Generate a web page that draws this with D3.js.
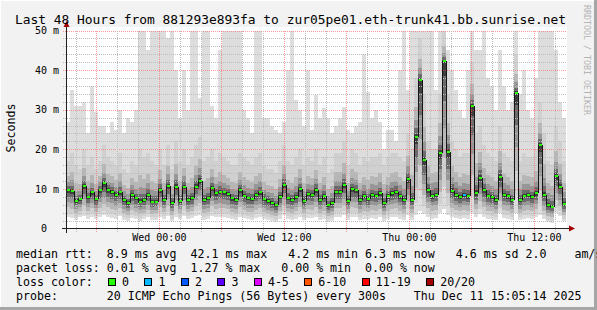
<!DOCTYPE html>
<html>
<head>
<meta charset="utf-8">
<script src="https://cdn.jsdelivr.net/npm/d3@7"></script>
<style>
body { margin: 0; background: #f2f2f2; }
svg { display: block; }
text { font-family: "DejaVu Sans Mono", monospace; white-space: pre; }
</style>
</head>
<body>
<svg id="chart" width="597" height="310"></svg>
<script>

// ---- data (ms), one value per 23 minute bin over the last 48 hours ----
var med = [
    9.7, 9.5, 7.0, 7.4, 10.8, 7.9, 9.1, 7.4, 9.6, 11.4,
    9.7, 9.3, 8.5, 9.1, 7.2, 6.5, 8.5, 7.6, 6.8, 7.2,
    8.5, 6.8, 6.8, 9.7, 7.2, 10.8, 6.4, 10.6, 7.0, 10.6,
    7.2, 7.6, 10.6, 12.1, 7.2, 7.6, 10.2, 8.9, 9.3, 9.1,
    8.7, 7.6, 7.2, 9.7, 8.2, 7.6, 7.5, 8.5, 9.1, 7.4,
    7.0, 6.5, 5.9, 7.9, 11.0, 7.6, 7.2, 7.9, 9.9, 7.0,
    8.7, 8.5, 9.7, 7.2, 8.1, 5.9, 6.5, 9.3, 9.3, 11.0,
    7.0, 9.9, 9.6, 7.2, 8.2, 7.4, 8.5, 8.2, 8.9, 6.4,
    8.1, 8.9, 9.3, 8.1, 7.2, 12.5, 7.2, 23.2, 37.6, 17.3,
    9.6, 8.1, 8.5, 19.1, 42.2, 19.4, 9.5, 8.5, 7.9, 8.5,
    8.1, 31.0, 8.9, 12.8, 9.7, 8.2, 7.9, 7.2, 13.0, 8.5,
    8.1, 7.2, 34.2, 7.2, 8.2, 8.5, 7.9, 8.9, 21.1, 8.5,
    5.9, 5.5, 13.3, 10.6, 6.2
];

// highest ping in the bin
var hi = [
    27, 35, 31, 31, 32, 24, 36, 29.5, 26, 26,
    24, 27, 25, 30, 24, 28, 27, 30, 55, 55,
    45, 55, 55, 55, 55, 48, 55, 40, 28, 40,
    30, 55, 55, 33, 55, 55, 31, 28, 45, 55,
    55, 55, 55, 55, 30, 28, 24, 55, 55, 28,
    28, 26, 25, 24, 27, 40, 55, 32.5, 30, 26,
    40, 25, 33.8, 28, 30.5, 28, 24, 26, 28, 30.8,
    25, 24, 26, 27, 44, 34.5, 28, 30, 27, 20,
    25, 25, 22, 40, 55, 35, 55, 55, 55, 50,
    55, 55, 35, 55, 55, 45, 40, 35, 30, 28,
    40, 55, 45, 45, 50, 38, 36, 30, 45, 36,
    30, 32, 55, 34, 40, 30, 28, 38, 55, 55,
    55, 55, 45, 32, 28
];

// top of the dense smoke
var up = [
    17, 19, 16, 15, 20, 16, 18, 15, 17, 21,
    18, 17, 16, 19, 15, 14, 17, 16, 20, 18,
    19, 17, 16, 20, 16, 21, 15, 22, 17, 20,
    16, 18, 21, 23, 17, 18, 20, 17, 19, 18,
    17, 16, 16, 19, 18, 17, 16, 18, 19, 16,
    15, 15, 14, 17, 21, 17, 16, 18, 20, 16,
    18, 17, 20, 16, 18, 14, 15, 19, 19, 22,
    16, 20, 19, 16, 18, 17, 18, 18, 19, 16,
    18, 19, 19, 18, 17, 24, 20, 38, 48, 34,
    22, 20, 20, 34, 50, 34, 22, 20, 18, 19,
    19, 42, 24, 26, 21, 19, 18, 17, 26, 19,
    18, 17, 44, 17, 19, 18, 18, 20, 32, 24,
    17, 16, 26, 22, 17
];

// lowest ping in the bin
var lo = [
    3.0, 2.6, 2.2, 2.8, 3.2, 2.5, 3.0, 2.4, 2.9, 3.3,
    3.0, 2.7, 2.5, 3.1, 2.2, 1.9, 2.6, 2.4, 2.0, 2.3,
    2.8, 2.1, 2.2, 3.0, 2.5, 3.1, 1.8, 3.0, 2.3, 3.2,
    2.4, 2.6, 3.2, 3.5, 2.2, 2.4, 3.1, 2.8, 3.0, 2.9,
    2.7, 2.3, 2.1, 3.0, 2.6, 2.4, 2.2, 2.7, 2.9, 2.3,
    2.1, 1.9, 1.6, 2.5, 3.3, 2.4, 2.2, 2.5, 3.0, 2.2,
    2.7, 2.6, 3.0, 2.2, 2.5, 1.7, 1.9, 2.9, 2.9, 3.3,
    2.2, 3.0, 2.9, 2.2, 2.5, 2.3, 2.6, 2.5, 2.8, 1.9,
    2.5, 2.8, 2.9, 2.5, 2.2, 3.5, 2.2, 3.4, 4.5, 3.6,
    2.9, 2.5, 2.6, 3.8, 4.8, 3.5, 2.9, 2.6, 2.4, 2.6,
    2.5, 3.9, 2.8, 3.6, 3.0, 2.5, 2.4, 2.2, 3.8, 2.6,
    2.5, 2.2, 4.0, 2.2, 2.5, 2.6, 2.4, 2.8, 3.5, 2.4,
    1.6, 1.4, 3.8, 3.2, 1.8
];

// lost pings per bin (of 20)
var loss = [
    0, 0, 0, 0, 0, 0, 0, 0, 0, 0,  0, 0, 0, 0, 0, 0, 0, 0, 0, 0,
    0, 0, 0, 0, 0, 0, 0, 0, 0, 0,  0, 0, 0, 0, 0, 0, 0, 0, 0, 0,
    0, 0, 0, 0, 0, 0, 0, 0, 0, 0,  0, 0, 0, 0, 0, 0, 0, 0, 0, 0,
    0, 0, 0, 0, 0, 0, 0, 0, 0, 0,  0, 0, 0, 0, 0, 0, 0, 0, 0, 0,
    0, 0, 0, 0, 0, 0, 0, 0, 0, 0,  0, 0, 0, 0, 0, 0, 0, 0, 0, 1,
    0, 0, 0, 0, 0, 0, 0, 0, 0, 0,  0, 0, 0, 0, 0, 0, 0, 0, 0, 0,
    0, 0, 0, 0, 0
];

var lossLabels = ["0", "1", "2", "3", "4-5", "6-10", "11-19", "20/20"];
var lossColors = ["#26ff00", "#00b8ff", "#0059ff", "#5e00ff", "#dd00ff", "#ff5500", "#ff0000", "#a00000"];
var lossUpper = [0, 1, 2, 3, 5, 10, 19, 20];

var yTicks = [0, 10, 20, 30, 40, 50];
var xTickLabels = ["Wed 00:00", "Wed 12:00", "Thu 00:00", "Thu 12:00"];
var xTickTimes = [
    Date.UTC(2025, 11, 10, 0), Date.UTC(2025, 11, 10, 12),
    Date.UTC(2025, 11, 11, 0), Date.UTC(2025, 11, 11, 12)
];

var title = "Last 48 Hours from 881293e893fa to zur05pe01.eth-trunk41.bb.sunrise.net";
var legendLines = [
    "median rtt:  8.9 ms avg  42.1 ms max   4.2 ms min 6.3 ms now   4.6 ms sd 2.0    am/s",
    "packet loss: 0.01 % avg  1.27 % max   0.00 % min  0.00 % now",
    "loss color:",
    "probe:       20 ICMP Echo Pings (56 Bytes) every 300s    Thu Dec 11 15:05:14 2025"
];

var endTime = Date.UTC(2025, 11, 11, 15, 5, 14);
var startTime = endTime - 48 * 3600 * 1000;

/*-------------- layout ----------------*/

var W = 597, H = 310;
var plot = {left: 66, right: 566, top: 30.5, bottom: 228.5};
var cw = 6.98; // legend char width

var svg = d3.select("#chart");

var x = d3.scaleUtc().domain([startTime, endTime]).range([plot.left, plot.right]);
var y = d3.scaleLinear().domain([0, 50]).range([plot.bottom, plot.top]).clamp(true);

var binMs = (endTime - startTime) / med.length;
var bins = d3.range(med.length);
function bx0(i) { return x(startTime + i * binMs); }
function bx1(i) { return x(startTime + (i + 1) * binMs); }

// frame
svg.append("rect").attr("width", W).attr("height", H).attr("fill", "#f2f2f2");
svg.append("rect").attr("x", 0).attr("y", 0).attr("width", W).attr("height", 1).attr("fill", "#ffffff");
svg.append("rect").attr("x", 0).attr("y", 0).attr("width", 1).attr("height", H).attr("fill", "#ffffff");
svg.append("rect").attr("x", 0).attr("y", H - 3).attr("width", W).attr("height", 3).attr("fill", "#a6a6a6");
svg.append("rect").attr("x", W - 3).attr("y", 0).attr("width", 3).attr("height", H).attr("fill", "#a6a6a6");

// canvas
svg.append("rect")
    .attr("x", plot.left).attr("y", 27)
    .attr("width", plot.right - plot.left + 1).attr("height", plot.bottom - 27)
    .attr("fill", "#ffffff");

/*-------------- smoke ----------------*/

var smoke = svg.append("g").attr("shape-rendering", "crispEdges");

smoke.selectAll("rect.light")
    .data(bins)
    .enter().append("rect")
    .attr("class", "light")
    .attr("x", bx0)
    .attr("width", function(i) { return bx1(i) - bx0(i); })
    .attr("y", function(i) { return y(hi[i]); })
    .attr("height", function(i) { return y(lo[i]) - y(hi[i]); })
    .attr("fill", "#dddddd");

var bandFill = ["#d0d0d0", "#b6b6b6", "#979797", "#6c6c6c", "#3e3e3e"];
var upFrac = [1, 0.5, 0.28, 0.14, 0.05];
var downFrac = [0.85, 0.65, 0.45, 0.27, 0.1];

bandFill.forEach(function(fill, k) {
    smoke.selectAll("rect.band" + k)
        .data(bins)
        .enter().append("rect")
        .attr("class", "band" + k)
        .attr("x", bx0)
        .attr("width", function(i) { return bx1(i) - bx0(i); })
        .attr("y", function(i) { return y(med[i] + (up[i] - med[i]) * upFrac[k]); })
        .attr("height", function(i) {
            return y(med[i] - (med[i] - lo[i]) * downFrac[k]) - y(med[i] + (up[i] - med[i]) * upFrac[k]);
        })
        .attr("fill", fill);
});

/*-------------- grid ----------------*/

var grid = svg.append("g").attr("shape-rendering", "crispEdges");
var minorColor = "#bdbdbd";
var majorColor = "rgba(255,90,90,0.6)";

var minorY = d3.range(2, 50, 2).filter(function(v) { return v % 10 !== 0; });
grid.selectAll("line.my").data(minorY).enter().append("line")
    .attr("x1", plot.left - 3).attr("x2", plot.right)
    .attr("y1", function(v) { return Math.round(y(v)) + 0.5; })
    .attr("y2", function(v) { return Math.round(y(v)) + 0.5; })
    .attr("stroke", minorColor).attr("stroke-dasharray", "1,1");

grid.selectAll("line.My").data([10, 20, 30, 40, 50]).enter().append("line")
    .attr("x1", plot.left - 3).attr("x2", plot.right)
    .attr("y1", function(v) { return Math.round(y(v)) + 0.5; })
    .attr("y2", function(v) { return Math.round(y(v)) + 0.5; })
    .attr("stroke", majorColor).attr("stroke-dasharray", "1,1");

var hours2 = d3.utcHour.every(2).range(new Date(startTime), new Date(endTime));
var minorX = hours2.filter(function(d) { return d.getUTCHours() % 6 !== 0; });
var majorX = hours2.filter(function(d) { return d.getUTCHours() % 6 === 0; });

grid.selectAll("line.mx").data(minorX).enter().append("line")
    .attr("x1", function(d) { return Math.round(x(d)) + 0.5; })
    .attr("x2", function(d) { return Math.round(x(d)) + 0.5; })
    .attr("y1", plot.top).attr("y2", plot.bottom + 3)
    .attr("stroke", minorColor).attr("stroke-dasharray", "1,1");

grid.selectAll("line.Mx").data(majorX).enter().append("line")
    .attr("x1", function(d) { return Math.round(x(d)) + 0.5; })
    .attr("x2", function(d) { return Math.round(x(d)) + 0.5; })
    .attr("y1", plot.top).attr("y2", plot.bottom + 3)
    .attr("stroke", majorColor).attr("stroke-dasharray", "1,1");

/*-------------- median ----------------*/

var medG = svg.append("g").attr("shape-rendering", "crispEdges");

medG.selectAll("line.step")
    .data(bins.slice(1))
    .enter().append("line")
    .attr("class", "step")
    .attr("x1", function(i) { return Math.round(bx0(i)) + 0.5; })
    .attr("x2", function(i) { return Math.round(bx0(i)) + 0.5; })
    .attr("y1", function(i) { return y(med[i - 1]); })
    .attr("y2", function(i) { return y(med[i]); })
    .attr("stroke", "#151515")
    .attr("stroke-width", 1.2);

function lossColor(n) {
    for (var k = 0; k < lossUpper.length; k++) {
        if (n <= lossUpper[k]) return lossColors[k];
    }
    return lossColors[lossColors.length - 1];
}

medG.selectAll("rect.dot")
    .data(bins)
    .enter().append("rect")
    .attr("class", "dot")
    .attr("x", function(i) { return Math.round((bx0(i) + bx1(i)) / 2) - 1; })
    .attr("y", function(i) { return Math.round(y(med[i])) - 1; })
    .attr("width", 3)
    .attr("height", 2)
    .attr("fill", function(i) { return lossColor(loss[i]); });

/*-------------- axes ----------------*/

var xAxis = d3.axisBottom(x)
    .tickValues(xTickTimes.map(function(t) { return new Date(t); }))
    .tickFormat(function(d, i) { return xTickLabels[i]; })
    .tickSize(0)
    .tickPadding(5);

svg.append("g")
    .attr("transform", "translate(0," + plot.bottom + ")")
    .call(xAxis)
    .call(function(g) { g.select(".domain").remove(); })
    .attr("font-family", "DejaVu Sans Mono")
    .attr("font-size", 10)
    .selectAll("text").attr("fill", "#000");

var yAxis = d3.axisLeft(y)
    .tickValues(yTicks)
    .tickFormat(function(v) { return v === 0 ? "0\u00a0\u00a0" : v + " m"; })
    .tickSize(0)
    .tickPadding(7);

svg.append("g")
    .attr("transform", "translate(" + plot.left + ",0)")
    .call(yAxis)
    .call(function(g) { g.select(".domain").remove(); })
    .attr("font-family", "DejaVu Sans Mono")
    .attr("font-size", 10)
    .selectAll("text").attr("fill", "#000");

// axis lines and arrows
var axisG = svg.append("g").attr("shape-rendering", "crispEdges");
axisG.append("line")
    .attr("x1", plot.left - 4).attr("x2", plot.right + 4)
    .attr("y1", plot.bottom).attr("y2", plot.bottom)
    .attr("stroke", "#222").attr("stroke-width", 1);
axisG.append("line")
    .attr("x1", plot.left + 0.5).attr("x2", plot.left + 0.5)
    .attr("y1", plot.bottom + 4).attr("y2", 24)
    .attr("stroke", "#222").attr("stroke-width", 1);

svg.append("path")
    .attr("d", "M" + (plot.right + 3) + "," + (plot.bottom - 3) + "L" + (plot.right + 9) + "," + plot.bottom + "L" + (plot.right + 3) + "," + (plot.bottom + 3) + "Z")
    .attr("fill", "#a00000");
svg.append("path")
    .attr("d", "M" + (plot.left - 2.5) + ",27L" + (plot.left + 0.5) + ",21L" + (plot.left + 3.5) + ",27Z")
    .attr("fill", "#a00000");

/*-------------- texts ----------------*/

svg.append("text")
    .attr("x", 15).attr("y", 24)
    .attr("font-size", 12.9)
    .attr("fill", "#000")
    .text(title);

svg.append("text")
    .attr("transform", "translate(15,128) rotate(-90)")
    .attr("text-anchor", "middle")
    .attr("font-size", 11.6)
    .attr("fill", "#000")
    .text("Seconds");

svg.append("text")
    .attr("transform", "translate(584,5) rotate(90)")
    .attr("font-size", 8.3)
    .attr("fill", "#b4b4b4")
    .text("RRDTOOL / TOBI OETIKER");

var legend = svg.append("g");
legend.selectAll("text.line")
    .data(legendLines)
    .enter().append("text")
    .attr("class", "line")
    .attr("x", 16)
    .attr("y", function(d, i) { return 257.5 + 14 * i; })
    .attr("font-size", 11.6)
    .attr("fill", "#000")
    .text(function(d) { return d; });

// loss colour boxes
var bx = 108.5;
lossLabels.forEach(function(lab, k) {
    legend.append("rect")
        .attr("x", bx).attr("y", 278.5)
        .attr("width", 7).attr("height", 7)
        .attr("fill", lossColors[k])
        .attr("stroke", "#000").attr("stroke-width", 1)
        .attr("shape-rendering", "crispEdges");
    legend.append("text")
        .attr("x", bx + 13.5).attr("y", 285.5)
        .attr("font-size", 11.6)
        .attr("fill", "#000")
        .text(lab);
    bx = bx + 13.5 + lab.length * cw + 16;
});

</script>
</body>
</html>
